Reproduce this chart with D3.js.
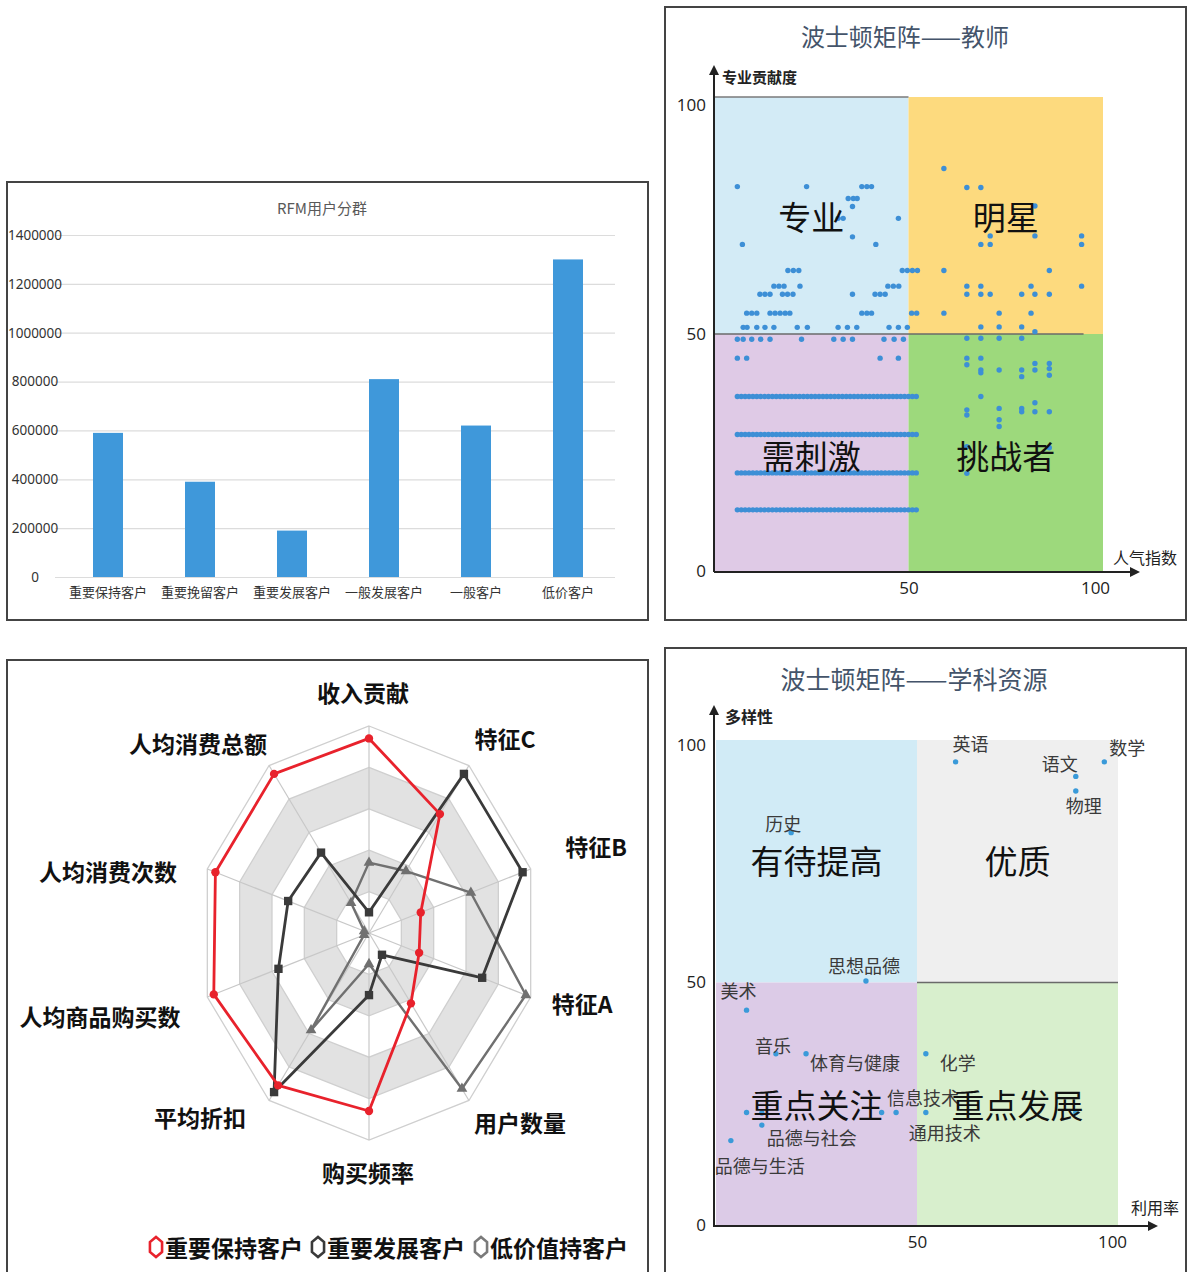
<!DOCTYPE html>
<html><head><meta charset="utf-8">
<script src="https://cdn.jsdelivr.net/npm/d3@7"></script>
<style>
body{margin:0;background:#fff}
svg{display:block}
text{font-family:"Noto Sans CJK SC","Noto Sans",sans-serif}
</style>
</head><body>
<svg id="c" width="1188" height="1272"></svg>
<script>
// ---------------- DATA ----------------
const rfmTitle = 'RFM用户分群';
const rfmCategories = ['重要保持客户','重要挽留客户','重要发展客户','一般发展客户','一般客户','低价客户'];
const rfmValues = [590000, 390000, 190000, 810000, 620000, 1300000];
const rfmTicks = [0,200000,400000,600000,800000,1000000,1200000,1400000];

const radarAxes = ['收入贡献','特征C','特征B','特征A','用户数量','购买频率','平均折扣','人均商品购买数','人均消费次数','人均消费总额'];
const radarSeriesNames = ['重要保持客户','重要发展客户','低价值持客户'];
const keepValues    = [0.94,0.71,0.32,0.31,0.42,0.86,0.91,0.96,0.95,0.95];
const developValues = [0.10,0.95,0.95,0.70,0.13,0.30,0.95,0.56,0.50,0.48];
const lowValues     = [0.34,0.37,0.63,0.97,0.93,0.15,0.58,0.03,0.03,0.18];
const radarLevels = [0.2,0.4,0.6,0.8,1.0];

const teacherTitle = '波士顿矩阵——教师';
const teacherAxisY = '专业贡献度';
const teacherAxisX = '人气指数';
const teacherQuadrants = ['专业','明星','需刺激','挑战者'];
const teacherTicks = [0,50,100];
const teacherPoints = [
 [6.0,81.1],[23.8,81.1],[38.0,81.1],[39.3,81.1],[40.5,81.1],
 [34.5,78.6],[35.8,78.6],[36.8,78.6],[35.6,76.9],
 [31.9,74.4],[33.2,74.4],[47.4,74.4],
 [7.3,68.9],[35.6,70.5],[41.6,68.9],
 [19.0,63.4],[20.4,63.4],[21.8,63.4],[48.4,63.4],[49.7,63.4],[51.0,63.4],[52.3,63.4],
 [15.4,60.1],[16.7,60.1],[18.0,60.1],[22.1,60.1],[44.7,60.1],[46.1,60.1],[47.5,60.1],
 [11.8,58.4],[13.1,58.4],[14.4,58.4],[17.6,58.4],[18.9,58.4],[20.3,58.4],[35.6,58.4],[41.4,58.4],[42.7,58.4],[44.0,58.4],
 [8.4,54.4],[9.7,54.4],[11.0,54.4],[14.4,54.4],[15.7,54.4],[17.0,54.4],[18.3,54.4],[19.5,54.4],[38.0,54.4],[39.3,54.4],[40.5,54.4],[50.8,54.4],[52.1,54.4],
 [7.5,51.4],[8.5,51.4],[11.0,51.4],[13.1,51.4],[15.4,51.4],[21.4,51.4],[24.0,51.4],[31.9,51.4],[34.3,51.4],[36.7,51.4],[45.0,51.4],[47.4,51.4],[49.7,51.4],
 [6.0,48.9],[7.5,48.9],[9.7,48.9],[12.0,48.9],[14.4,48.9],[22.5,48.9],[30.8,48.9],[33.2,48.9],[35.6,48.9],[43.7,48.9],[46.3,48.9],[48.7,48.9],
 [6.0,44.9],[8.4,44.9],[42.7,44.9],[47.4,44.9],
 [59.1,84.9],[65.0,80.9],[68.6,80.9],[82.5,77.0],[71.0,70.7],[71.0,68.9],[68.6,68.9],[82.5,70.7],[94.5,70.7],[94.5,68.9],
 [59.1,63.4],[86.2,63.4],[65.0,60.1],[68.6,60.1],[81.5,60.1],[94.5,60.1],
 [65.0,58.4],[68.6,58.4],[71.0,58.4],[79.1,58.4],[82.5,58.4],[86.2,58.4],
 [59.1,54.4],[73.3,54.4],[81.5,54.4],
 [68.6,51.5],[73.3,51.5],[79.1,51.5],[82.5,50.5],
 [65.0,49.1],[68.6,49.1],[73.3,49.1],[79.1,49.1],
 [65.0,44.9],[68.6,44.9],[65.0,43.5],
 [68.6,42.4],[68.6,41.8],[73.3,42.4],[79.1,42.4],[79.1,41.0],[82.5,43.8],[82.5,42.4],[86.2,43.8],[86.2,42.7],[86.2,41.3],
 [68.6,36.8],
 [65.0,34.0],[65.0,32.9],[73.3,34.3],[73.3,31.9],[73.3,30.5],[79.1,34.3],[79.1,33.6],[82.5,35.5],[82.5,33.6],[86.2,33.6],
 [65.0,26.2],[65.0,20.6],[73.3,26.0],[86.2,26.0]
];
const teacherRowY = [36.8, 28.8, 20.7, 12.9];
const teacherRowX = [6,7,8,9,10,11,12,13,14,15,16,17,18,19,20,21,22,23,24,25,26,27,28,29,30,31,32,33,34,35,36,37,38,39,40,41,42,43,44,45,46,47,48,49,50,51,52];

const subjectTitle = '波士顿矩阵——学科资源';
const subjectAxisY = '多样性';
const subjectAxisX = '利用率';
const subjectQuadrants = ['有待提高','优质','重点关注','重点发展'];
const subjectNames = ['英语','数学','语文','物理','历史','思想品德','美术','音乐','体育与健康','化学','信息技术','通用技术','品德与社会','品德与生活'];
const subjectX = [59.6, 96.6, 89.5, 89.5, 18.7, 37.3, 7.6, 14.9, 22.4, 52.2, 44.8, 52.2, 11.4, 3.7];
const subjectY = [95.5, 95.5, 92.5, 89.5, 80.9, 50.3, 44.3, 35.3, 35.3, 35.3, 23.2, 23.2, 20.6, 17.4];
const subjectExtraX = [41.2, 7.6, 11.4, 89.5];
const subjectExtraY = [23.2, 23.2, 23.1, 23.2];

// ---------------- DRAW ----------------
const svg = d3.select('#c');
svg.append('rect').attr('width',1188).attr('height',1272).attr('fill','#fff');

// ===== Panel 1: bar chart =====
const p1 = svg.append('g');
const bx = d3.scaleBand().domain(rfmCategories).range([62,614]).paddingInner(0.674).paddingOuter(0.337);
const by = d3.scaleLinear().domain([0,1400000]).range([577,235]);
const grid = p1.append('g').attr('transform','translate(615,0)')
  .call(d3.axisLeft(by).tickValues(rfmTicks).tickSize(560).tickFormat(''));
grid.select('.domain').remove();
grid.selectAll('line').attr('stroke','#dcdcdc').attr('stroke-width',1.2);
const yl = p1.append('g').attr('transform','translate(35,0)')
  .call(d3.axisLeft(by).tickValues(rfmTicks).tickSize(0).tickPadding(0).tickFormat(d3.format('d')));
yl.select('.domain').remove();
yl.selectAll('text').attr('text-anchor','middle').attr('x',0).attr('font-size',13.5)
  .attr('fill','#333').style('font-family','"Noto Sans",sans-serif');
p1.selectAll('rect.bar').data(rfmValues).join('rect').attr('class','bar')
  .attr('x',(d,i)=>bx(rfmCategories[i])).attr('width',bx.bandwidth())
  .attr('y',d=>by(d)).attr('height',d=>by(0)-by(d)).attr('fill','#3f98da');
const xl = p1.append('g').attr('transform','translate(0,587)')
  .call(d3.axisBottom(bx).tickSize(0).tickPadding(0));
xl.select('.domain').remove();
xl.selectAll('text').attr('font-size',13).attr('fill','#333').attr('dy','0.75em');
p1.append('text').attr('x',322).attr('y',214).attr('text-anchor','middle')
  .attr('font-size',15).attr('fill','#595959').text(rfmTitle);

// ===== Panel 3: radar =====
const p3 = svg.append('g');
const rcx = 369, rcy = 933;
const rxS = d3.scaleLinear().domain([0,1]).range([0,170]);
const ryS = d3.scaleLinear().domain([0,1]).range([0,207]);
const nAx = radarAxes.length;
const ang = i => i*2*Math.PI/nAx;
const pt = (v,i) => [rcx + rxS(v)*Math.sin(ang(i)), rcy - ryS(v)*Math.cos(ang(i))];
const poly = d3.line().curve(d3.curveLinearClosed);
radarLevels.slice().reverse().forEach((lv,k)=>{
  p3.append('path').attr('d',poly(radarAxes.map((a,i)=>pt(lv,i))))
    .attr('fill', (Math.round(lv*10)%4===0 && lv<1) ? '#e2e2e2' : '#fff')
    .attr('stroke','#cfcfcf').attr('stroke-width',1.3);
});
radarAxes.forEach((a,i)=>{
  const e = pt(1,i);
  p3.append('line').attr('x1',rcx).attr('y1',rcy).attr('x2',e[0]).attr('y2',e[1])
    .attr('stroke','#c8c8c8').attr('stroke-width',1.2);
});
const radarStyles = [
  {vals:lowValues, color:'#707070', w:2.4, marker:'tri'},
  {vals:developValues, color:'#3a3a3a', w:2.8, marker:'sq'},
  {vals:keepValues, color:'#e8222c', w:2.8, marker:'circ'}
];
radarStyles.forEach(s=>{
  const pts = s.vals.map((v,i)=>pt(v,i));
  p3.append('path').attr('d',poly(pts)).attr('fill','none')
    .attr('stroke',s.color).attr('stroke-width',s.w).attr('stroke-linejoin','round');
  p3.selectAll(null).data(pts).join('path')
    .attr('transform',d=>`translate(${d[0]},${d[1]})`)
    .attr('d', s.marker==='circ' ? d3.symbol(d3.symbolCircle,55)() :
               s.marker==='sq' ? d3.symbol(d3.symbolSquare,70)() : d3.symbol(d3.symbolTriangle,50)())
    .attr('fill',s.color);
});
const radarLabelPos = [[-6,-241],[136,-195],[227,-87],[213,70],[151,189],[-1,239],[-169,184],[-269,83],[-261,-62],[-171,-190]];
radarAxes.forEach((a,i)=>{
  p3.append('text').attr('x',rcx+radarLabelPos[i][0]).attr('y',rcy+radarLabelPos[i][1])
    .attr('text-anchor','middle').attr('dominant-baseline','central')
    .attr('font-size',23).attr('font-weight',700).attr('fill','#111').text(a);
});
// legend
const legendColors = ['#e8222c','#3a3a3a','#7a7a7a'];
const legendX = [156, 318, 481];
const hex = d3.line().curve(d3.curveLinearClosed);
radarSeriesNames.forEach((nm,i)=>{
  const cx = legendX[i], cy = 1247;
  const hp = d3.range(6).map(k=>[cx + 7*Math.cos(k*Math.PI/3 + Math.PI/6), cy + 10*Math.sin(k*Math.PI/3 + Math.PI/6)]);
  p3.append('path').attr('d',hex(hp)).attr('fill','#fff').attr('stroke',legendColors[i]).attr('stroke-width',2.6);
  p3.append('text').attr('x',cx+9).attr('y',cy).attr('dominant-baseline','central')
    .attr('font-size',23).attr('font-weight',700).attr('fill','#111').text(nm);
});

// ===== Panel 2: teacher BCG =====
const p2 = svg.append('g');
const tx = d3.scaleLinear().domain([0,100]).range([714,1103]);
const ty = d3.scaleLinear().domain([0,100]).range([571,97]);
const tq = [
  {x0:0,x1:50,y0:50,y1:100,c:'#d3ebf6'},
  {x0:50,x1:100,y0:50,y1:100,c:'#fdda7e'},
  {x0:0,x1:50,y0:0,y1:50,c:'#dfcae6'},
  {x0:50,x1:100,y0:0,y1:50,c:'#9dd97c'}
];
tq.forEach((q,i)=>{
  p2.append('rect').attr('x',tx(q.x0)).attr('y',ty(q.y1)).attr('width',tx(q.x1)-tx(q.x0)).attr('height',ty(q.y0)-ty(q.y1)).attr('fill',q.c);
});
p2.append('line').attr('x1',tx(0)).attr('x2',tx(50)).attr('y1',ty(100)).attr('y2',ty(100)).attr('stroke','#7a7a7a').attr('stroke-width',1.5);
p2.append('line').attr('x1',tx(0)).attr('x2',tx(95)).attr('y1',ty(50)).attr('y2',ty(50)).attr('stroke','#6a6a6a').attr('stroke-width',1.5);
// dots
teacherRowY.forEach(yv=>{
  p2.selectAll(null).data(teacherRowX).join('circle')
    .attr('cx',d=>tx(d)).attr('cy',ty(yv)).attr('r',2.7).attr('fill','#3d8fd6');
});
p2.selectAll(null).data(teacherPoints).join('circle')
  .attr('cx',d=>tx(d[0])).attr('cy',d=>ty(d[1])).attr('r',2.7).attr('fill','#3d8fd6');
// quadrant labels
const tqPos = [[25,75],[75,75],[25,25],[75,25]];
teacherQuadrants.forEach((t,i)=>{
  p2.append('text').attr('x',tx(tqPos[i][0])).attr('y',ty(tqPos[i][1])+(i<2?0:2)).attr('text-anchor','middle')
    .attr('dominant-baseline','central').attr('font-size',33).attr('fill','#111').text(t);
});
// axes
const defs = svg.append('defs');
defs.append('marker').attr('id','arr').attr('viewBox','0 0 10 10').attr('refX',5).attr('refY',5)
  .attr('markerWidth',5).attr('markerHeight',5).attr('orient','auto-start-reverse')
  .append('path').attr('d','M0,0L10,5L0,10z').attr('fill','#222');
p2.append('line').attr('x1',714).attr('y1',572).attr('x2',714).attr('y2',70).attr('stroke','#222').attr('stroke-width',2).attr('marker-end','url(#arr)');
p2.append('line').attr('x1',714).attr('y1',572).attr('x2',1135).attr('y2',572).attr('stroke','#222').attr('stroke-width',2).attr('marker-end','url(#arr)');
const tya = p2.append('g').attr('transform','translate(712,0)')
  .call(d3.axisLeft(ty).tickValues(teacherTicks).tickSize(0).tickPadding(6));
tya.select('.domain').remove();
tya.selectAll('text').attr('font-size',17).attr('fill','#222').style('font-family','"Open Sans",sans-serif');
tya.selectAll('.tick').filter(d=>d===100).select('text').attr('dy','0.8em');
const txa = p2.append('g').attr('transform','translate(0,576)')
  .call(d3.axisBottom(tx).tickValues([50,100]).tickSize(0).tickPadding(6));
txa.select('.domain').remove();
txa.selectAll('text').attr('font-size',17).attr('fill','#222').style('font-family','"Open Sans",sans-serif');
txa.selectAll('.tick').filter(d=>d===100).select('text').attr('x',-8);
p2.append('text').attr('x',722).attr('y',76).attr('dominant-baseline','central').attr('font-size',15).attr('font-weight',700).attr('fill','#222').text(teacherAxisY);
p2.append('text').attr('x',1113).attr('y',557).attr('dominant-baseline','central').attr('font-size',16).attr('fill','#222').text(teacherAxisX);
p2.append('text').attr('x',905).attr('y',35).attr('text-anchor','middle').attr('dominant-baseline','central')
  .attr('font-size',24).attr('fill','#44546a').text(teacherTitle);

// ===== Panel 4: subject BCG =====
const p4 = svg.append('g');
const sx = d3.scaleLinear().domain([0,100]).range([716,1118]);
const sy = d3.scaleLinear().domain([0,100]).range([1225,740]);
const sq = [
  {x0:0,x1:50,y0:50,y1:100,c:'#d1ebf6'},
  {x0:50,x1:100,y0:50,y1:100,c:'#efefef'},
  {x0:0,x1:50,y0:0,y1:50,c:'#dccbe7'},
  {x0:50,x1:100,y0:0,y1:50,c:'#d8efcd'}
];
sq.forEach(q=>{
  p4.append('rect').attr('x',sx(q.x0)).attr('y',sy(q.y1)).attr('width',sx(q.x1)-sx(q.x0)).attr('height',sy(q.y0)-sy(q.y1)).attr('fill',q.c);
});
p4.append('line').attr('x1',sx(50)).attr('x2',sx(100)).attr('y1',sy(50)).attr('y2',sy(50)).attr('stroke','#6a6a6a').attr('stroke-width',1.5);
p4.selectAll(null).data(subjectExtraX).join('circle')
  .attr('cx',d=>sx(d)).attr('cy',(d,i)=>sy(subjectExtraY[i])).attr('r',2.7).attr('fill','#3a9ad9');
p4.selectAll(null).data(subjectX).join('circle')
  .attr('cx',d=>sx(d)).attr('cy',(d,i)=>sy(subjectY[i])).attr('r',2.7).attr('fill','#3a9ad9');
const subjLabelOff = [[15,-19],[23,-15],[-16,-13],[8,14],[-8,-10],[-2,-16],[-8,-20],[-3,-9],[49,8],[32,8],[27,-15],[19,20],[50,12],[29,24]];
subjectNames.forEach((nm,i)=>{
  p4.append('text').attr('x',sx(subjectX[i])+subjLabelOff[i][0]).attr('y',sy(subjectY[i])+subjLabelOff[i][1])
    .attr('text-anchor','middle').attr('dominant-baseline','central')
    .attr('font-size',18).attr('fill','#3a3a3a').text(nm);
});
const sqPos = [[25,75],[75,75],[25,25],[75,25]];
subjectQuadrants.forEach((t,i)=>{
  p4.append('text').attr('x',sx(sqPos[i][0])).attr('y',sy(sqPos[i][1])+(i<2?-1:0)).attr('text-anchor','middle')
    .attr('dominant-baseline','central').attr('font-size',33).attr('fill','#111').text(t);
});
p4.append('line').attr('x1',714).attr('y1',1227).attr('x2',714).attr('y2',710).attr('stroke','#222').attr('stroke-width',2).attr('marker-end','url(#arr)');
p4.append('line').attr('x1',714).attr('y1',1226).attr('x2',1153).attr('y2',1226).attr('stroke','#222').attr('stroke-width',2).attr('marker-end','url(#arr)');
const sya = p4.append('g').attr('transform','translate(712,0)')
  .call(d3.axisLeft(sy).tickValues([0,50,100]).tickSize(0).tickPadding(6));
sya.select('.domain').remove();
sya.selectAll('text').attr('font-size',17).attr('fill','#222').style('font-family','"Open Sans",sans-serif');
sya.selectAll('.tick').filter(d=>d===100).select('text').attr('dy','0.6em');
const sxa = p4.append('g').attr('transform','translate(0,1231)')
  .call(d3.axisBottom(sx).tickValues([50,100]).tickSize(0).tickPadding(5));
sxa.select('.domain').remove();
sxa.selectAll('text').attr('font-size',17).attr('fill','#222').style('font-family','"Open Sans",sans-serif');
sxa.selectAll('.tick').filter(d=>d===100).select('text').attr('x',-6);
p4.append('text').attr('x',725).attr('y',716).attr('dominant-baseline','central').attr('font-size',16).attr('font-weight',700).attr('fill','#222').text(subjectAxisY);
p4.append('text').attr('x',1131).attr('y',1207).attr('dominant-baseline','central').attr('font-size',16).attr('fill','#222').text(subjectAxisX);
p4.append('text').attr('x',914).attr('y',678).attr('text-anchor','middle').attr('dominant-baseline','central')
  .attr('font-size',25).attr('fill','#44546a').text(subjectTitle);

// ===== Panel borders =====
function box(x,y,w,h){ svg.append('rect').attr('x',x).attr('y',y).attr('width',w).attr('height',h).attr('fill','none').attr('stroke','#444').attr('stroke-width',2); }
box(7,182,641,438);
box(7,660,641,625);
box(665,7,521,613);
box(665,648,521,640);
</script>
</body></html>
